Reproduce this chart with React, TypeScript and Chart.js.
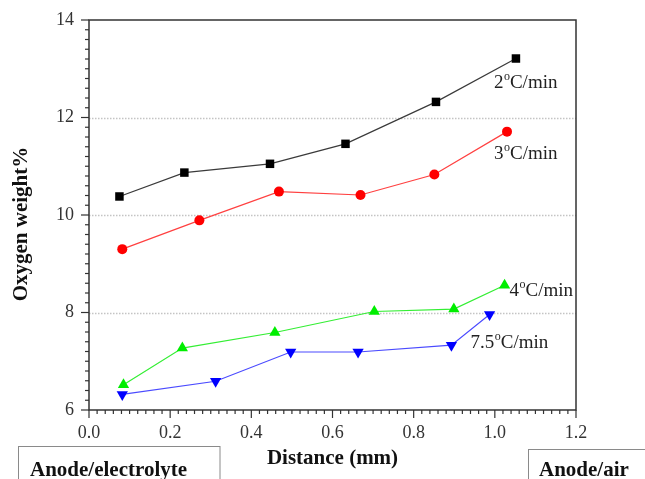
import React, { useEffect, useRef } from "react";
import { Chart, registerables } from "chart.js";

Chart.register(...registerables);

// ---- data ----
const distance2 = [0.075, 0.235, 0.446, 0.632, 0.855, 1.052];
const oxygen2 = [10.38, 10.87, 11.05, 11.46, 12.32, 13.21];
const distance3 = [0.082, 0.272, 0.468, 0.669, 0.851, 1.03];
const oxygen3 = [9.3, 9.89, 10.48, 10.41, 10.83, 11.71];
const distance4 = [0.085, 0.23, 0.458, 0.703, 0.899, 1.024];
const oxygen4 = [6.52, 7.27, 7.59, 8.02, 8.07, 8.56];
const distance75 = [0.082, 0.312, 0.497, 0.663, 0.893, 0.987];
const oxygen75 = [6.32, 6.59, 7.19, 7.19, 7.33, 7.96];

const rateLabels = ["2", "3", "4", "7.5"];
const xTitle = "Distance (mm)";
const yTitle = "Oxygen weight%";
const leftBoxText = "Anode/electrolyte";
const rightBoxText = "Anode/air";
const gridValues = [8, 10, 12];

const SERIF = '"Liberation Serif", "Times New Roman", serif';

const toPoints = (xs: number[], ys: number[]) => xs.map((x, i) => ({ x, y: ys[i] }));

// label offsets relative to last point of each series (pixels, left edge / baseline)
const labelOffsets = [
  { dx: -22, dy: 29 },
  { dx: -13, dy: 27 },
  { dx: 5, dy: 11 },
  { dx: -19, dy: 34 },
];

const decorPlugin = {
  id: "decor",
  beforeDatasetsDraw(chart: any) {
    const { ctx, chartArea, scales } = chart;
    const y = scales.y;
    ctx.save();
    ctx.strokeStyle = "#c4c4c4";
    ctx.lineWidth = 1.5;
    ctx.setLineDash([1.5, 1.5]);
    gridValues.forEach((v) => {
      const py = Math.round(y.getPixelForValue(v)) + 0.5;
      ctx.beginPath();
      ctx.moveTo(chartArea.left, py);
      ctx.lineTo(chartArea.right, py);
      ctx.stroke();
    });
    ctx.restore();
  },
  afterDraw(chart: any) {
    const { ctx, chartArea, scales } = chart;
    const xs = scales.x;
    const ys = scales.y;
    const { left, right, top, bottom } = chartArea;
    ctx.save();
    // frame
    ctx.strokeStyle = "#333";
    ctx.lineWidth = 1.5;
    ctx.strokeRect(left, top, right - left, bottom - top);
    // x ticks
    ctx.lineWidth = 1.2;
    for (let i = 0; i <= 60; i++) {
      const v = i * 0.02;
      const px = xs.getPixelForValue(v);
      const len = i % 10 === 0 ? 8 : 4;
      ctx.beginPath();
      ctx.moveTo(px, bottom);
      ctx.lineTo(px, bottom + len);
      ctx.stroke();
    }
    // y ticks
    for (let i = 0; i <= 40; i++) {
      const v = 6 + i * 0.2;
      const py = ys.getPixelForValue(v);
      const len = i % 10 === 0 ? 8 : 4;
      ctx.beginPath();
      ctx.moveTo(left, py);
      ctx.lineTo(left - len, py);
      ctx.stroke();
    }
    // axis titles
    ctx.fillStyle = "#111";
    ctx.font = `bold 21px ${SERIF}`;
    ctx.textAlign = "center";
    ctx.textBaseline = "middle";
    ctx.fillText(xTitle, (left + right) / 2, 459);
    ctx.save();
    ctx.translate(22, 224);
    ctx.rotate(-Math.PI / 2);
    ctx.fillText(yTitle, 0, 0);
    ctx.restore();

    // series labels with superscript o
    ctx.textAlign = "left";
    ctx.textBaseline = "alphabetic";
    chart.data.datasets.forEach((ds: any, i: number) => {
      const meta = chart.getDatasetMeta(i);
      const last = meta.data[meta.data.length - 1];
      const off = labelOffsets[i];
      let x = last.x + off.dx;
      const base = last.y + off.dy;
      ctx.fillStyle = "#222";
      ctx.font = `19px ${SERIF}`;
      ctx.fillText(rateLabels[i], x, base);
      x += ctx.measureText(rateLabels[i]).width + 0.5;
      ctx.font = `12px ${SERIF}`;
      ctx.fillText("o", x, base - 8);
      x += ctx.measureText("o").width;
      ctx.font = `19px ${SERIF}`;
      ctx.fillText("C/min", x, base);
    });

    // bottom boxes
    ctx.strokeStyle = "#8a8a8a";
    ctx.lineWidth = 1;
    ctx.strokeRect(18.5, 446.5, 201.5, 40);
    ctx.strokeRect(528.5, 449.5, 130, 40);
    ctx.fillStyle = "#111";
    ctx.font = `bold 21px ${SERIF}`;
    ctx.fillText(leftBoxText, 30, 476);
    ctx.fillText(rightBoxText, 539, 476);
    ctx.restore();
  },
};

export default function App() {
  const canvasRef = useRef<HTMLCanvasElement | null>(null);

  useEffect(() => {
    const canvas = canvasRef.current;
    if (!canvas) return;
    const chart = new Chart(canvas, {
      type: "line",
      data: {
        datasets: [
          {
            label: "2",
            data: toPoints(distance2, oxygen2),
            borderColor: "#3a3a3a",
            backgroundColor: "#000",
            pointBackgroundColor: "#000",
            pointBorderColor: "#000",
            pointStyle: "rect",
            pointRadius: 6,
            borderWidth: 1.2,
            pointBorderWidth: 0,
          },
          {
            label: "3",
            data: toPoints(distance3, oxygen3),
            borderColor: "#ff4040",
            backgroundColor: "#ff0000",
            pointBackgroundColor: "#ff0000",
            pointBorderColor: "#ff0000",
            pointStyle: "circle",
            pointRadius: 5,
            borderWidth: 1.2,
            pointBorderWidth: 0,
          },
          {
            label: "4",
            data: toPoints(distance4, oxygen4),
            borderColor: "#33ee33",
            backgroundColor: "#00ee00",
            pointBackgroundColor: "#00ee00",
            pointBorderColor: "#00ee00",
            pointStyle: "triangle",
            pointRadius: 6.5,
            borderWidth: 1.2,
            pointBorderWidth: 0,
          },
          {
            label: "7.5",
            data: toPoints(distance75, oxygen75),
            borderColor: "#4a4aff",
            backgroundColor: "#0000ff",
            pointBackgroundColor: "#0000ff",
            pointBorderColor: "#0000ff",
            pointStyle: "triangle",
            pointRotation: 180,
            pointRadius: 6.5,
            borderWidth: 1.2,
            pointBorderWidth: 0,
          },
        ],
      },
      options: {
        responsive: false,
        animation: false,
        devicePixelRatio: 1,
        layout: { padding: { left: 0, top: 20, right: 69, bottom: 0 } },
        plugins: {
          legend: { display: false },
          tooltip: { enabled: false },
          title: { display: false },
        },
        scales: {
          x: {
            type: "linear",
            min: 0,
            max: 1.2,
            grid: { display: false, drawTicks: false },
            border: { display: false },
            ticks: {
              stepSize: 0.2,
              padding: 12,
              color: "#333",
              font: { family: SERIF, size: 18 },
              maxRotation: 0,
              callback: (v: any) => Number(v).toFixed(1),
            },
            afterFit: (s: any) => {
              s.height = 69;
              s.paddingLeft = 0;
              s.paddingRight = 0;
            },
          },
          y: {
            type: "linear",
            min: 6,
            max: 14,
            grid: { display: false, drawTicks: false },
            border: { display: false },
            ticks: {
              stepSize: 2,
              padding: 15,
              color: "#333",
              font: { family: SERIF, size: 18 },
            },
            afterFit: (s: any) => {
              s.width = 89;
              s.paddingTop = 0;
              s.paddingBottom = 0;
            },
          },
        },
      },
      plugins: [decorPlugin],
    });
    return () => chart.destroy();
  }, []);

  return (
    <div style={{ position: "absolute", left: 0, top: 0, width: 645, height: 479, background: "#fff" }}>
      <canvas ref={canvasRef} width={645} height={479} style={{ width: 645, height: 479 }} />
    </div>
  );
}
